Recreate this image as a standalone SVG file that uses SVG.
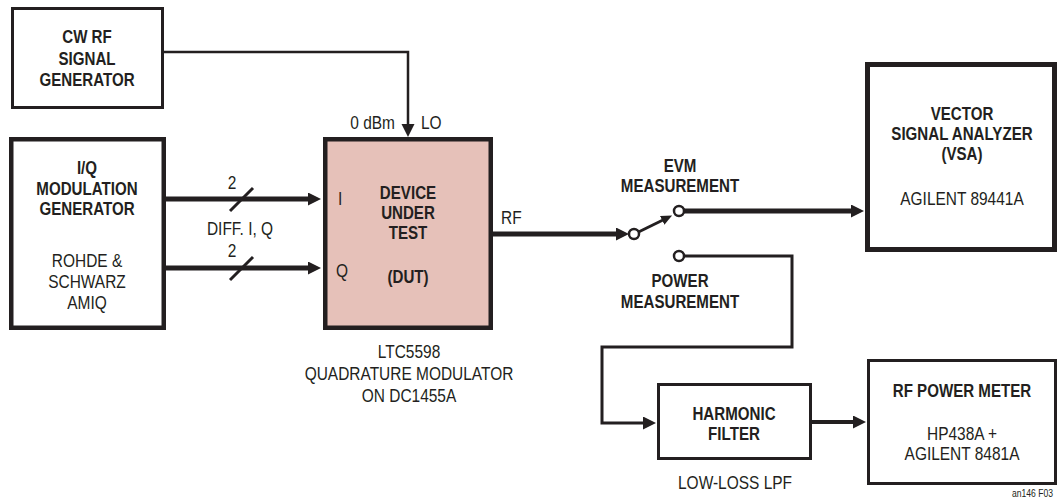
<svg xmlns="http://www.w3.org/2000/svg" width="1057" height="502" viewBox="0 0 1057 502">
<style>
  text { font-family: "Liberation Sans", Arial, sans-serif; font-size: 18px; fill: #231f20; text-anchor: middle; }
  .b { font-weight: bold; }
  .s { font-size: 10px; text-anchor: start; }
  .st { text-anchor: start; }
  .en { text-anchor: end; }
  .box { fill: #fff; stroke: #231f20; }
  .thin { stroke-width: 3; }
  .thick { stroke-width: 4.5; }
  .dut { fill: #e6c1b9; }
  .wire { fill: none; stroke: #231f20; }
  .w5 { stroke-width: 5; }
  .w4 { stroke-width: 4; }
  .w3 { stroke-width: 3; }
  .w25 { stroke-width: 2.5; }
  .sw { fill: #fff; stroke: #231f20; stroke-width: 2.5; }
</style>
<defs>
  <marker id="ah" markerUnits="userSpaceOnUse" markerWidth="14" markerHeight="14" refX="2" refY="6.5" orient="auto">
    <path d="M0,0 L13,6.5 L0,13 z" fill="#231f20"/>
  </marker>
  <marker id="ahs" markerUnits="userSpaceOnUse" markerWidth="12" markerHeight="12" refX="2" refY="5" orient="auto">
    <path d="M0,0 L11,5 L0,10 z" fill="#231f20"/>
  </marker>
</defs>
<rect width="1057" height="502" fill="#fff"/>

<g id="connectors">
  <path class="wire w25" d="M164,52 H408 V126" marker-end="url(#ah)"/>
  <path class="wire w5" d="M166,199 H310" marker-end="url(#ah)"/>
  <path class="wire w5" d="M166,268 H310" marker-end="url(#ah)"/>
  <line class="wire w3" x1="230" y1="211" x2="253" y2="188"/>
  <line class="wire w3" x1="230" y1="280" x2="253" y2="257"/>
  <path class="wire w5" d="M493,234 H618" marker-end="url(#ah)"/>
  <path class="wire w3" d="M638.5,232 L664,219.5" marker-end="url(#ahs)"/>
  <path class="wire w5" d="M684,211 H853" marker-end="url(#ah)"/>
  <path class="wire w3" d="M684,256 H792 V347 H602 V423 H645" marker-end="url(#ah)"/>
  <path class="wire w4" d="M812,422 H855" marker-end="url(#ah)"/>
  <circle class="sw" cx="634" cy="234" r="5"/>
  <circle class="sw" cx="679" cy="211" r="5"/>
  <circle class="sw" cx="679" cy="256" r="5"/>
  <text transform="translate(232 189) scale(0.86 1)">2</text>
  <text transform="translate(232 257) scale(0.86 1)">2</text>
  <text transform="translate(240 235) scale(0.86 1)">DIFF. I, Q</text>
  <text class="en" transform="translate(395 129) scale(0.86 1)">0 dBm</text>
  <text class="st" transform="translate(421 129) scale(0.86 1)">LO</text>
  <text class="st" transform="translate(501 224) scale(0.86 1)">RF</text>
  <text class="b" transform="translate(680 172) scale(0.84 1)">EVM</text>
  <text class="b" transform="translate(680 192) scale(0.84 1)">MEASUREMENT</text>
  <text class="b" transform="translate(680 287) scale(0.84 1)">POWER</text>
  <text class="b" transform="translate(680 308) scale(0.84 1)">MEASUREMENT</text>
</g>

<g id="cw-rf">
  <rect class="box thin" x="12.5" y="8.5" width="150" height="99"/>
  <text class="b" transform="translate(87 43) scale(0.84 1)">CW RF</text>
  <text class="b" transform="translate(87 65) scale(0.84 1)">SIGNAL</text>
  <text class="b" transform="translate(87 86) scale(0.84 1)">GENERATOR</text>
</g>

<g id="iq-gen">
  <rect class="box thick" x="11.25" y="139.25" width="152.5" height="188.5"/>
  <text class="b" transform="translate(87 174) scale(0.84 1)">I/Q</text>
  <text class="b" transform="translate(87 195) scale(0.84 1)">MODULATION</text>
  <text class="b" transform="translate(87 215) scale(0.84 1)">GENERATOR</text>
  <text transform="translate(87 267) scale(0.86 1)">ROHDE &amp;</text>
  <text transform="translate(87 288) scale(0.86 1)">SCHWARZ</text>
  <text transform="translate(87 309) scale(0.86 1)">AMIQ</text>
</g>

<g id="dut">
  <rect class="box thick dut" x="325.25" y="139.25" width="165.5" height="188.5"/>
  <text class="st" transform="translate(338 205) scale(0.86 1)">I</text>
  <text class="st" transform="translate(336 277) scale(0.86 1)">Q</text>
  <text class="b" transform="translate(408 199) scale(0.84 1)">DEVICE</text>
  <text class="b" transform="translate(408 219) scale(0.84 1)">UNDER</text>
  <text class="b" transform="translate(408 239) scale(0.84 1)">TEST</text>
  <text class="b" transform="translate(408 283) scale(0.84 1)">(DUT)</text>
  <text transform="translate(409 358) scale(0.86 1)">LTC5598</text>
  <text transform="translate(409 380) scale(0.86 1)">QUADRATURE MODULATOR</text>
  <text transform="translate(409 402) scale(0.86 1)">ON DC1455A</text>
</g>

<g id="vsa">
  <rect class="box" stroke-width="5" x="867.5" y="64.5" width="187" height="185"/>
  <text class="b" transform="translate(962 120) scale(0.84 1)">VECTOR</text>
  <text class="b" transform="translate(962 140) scale(0.84 1)">SIGNAL ANALYZER</text>
  <text class="b" transform="translate(962 160) scale(0.84 1)">(VSA)</text>
  <text transform="translate(962 205) scale(0.86 1)">AGILENT 89441A</text>
</g>

<g id="filter">
  <rect class="box thin" x="658.5" y="384.5" width="152" height="74"/>
  <text class="b" transform="translate(734 420) scale(0.84 1)">HARMONIC</text>
  <text class="b" transform="translate(734 440) scale(0.84 1)">FILTER</text>
  <text transform="translate(735 489) scale(0.86 1)">LOW-LOSS LPF</text>
</g>

<g id="power-meter">
  <rect class="box thin" x="868.5" y="360.5" width="187" height="123"/>
  <text class="b" transform="translate(962 397) scale(0.84 1)">RF POWER METER</text>
  <text transform="translate(962 440) scale(0.86 1)">HP438A +</text>
  <text transform="translate(962 460) scale(0.86 1)">AGILENT 8481A</text>
</g>

<text class="s" transform="translate(1012 497) scale(0.86 1)">an146 F03</text>
</svg>
